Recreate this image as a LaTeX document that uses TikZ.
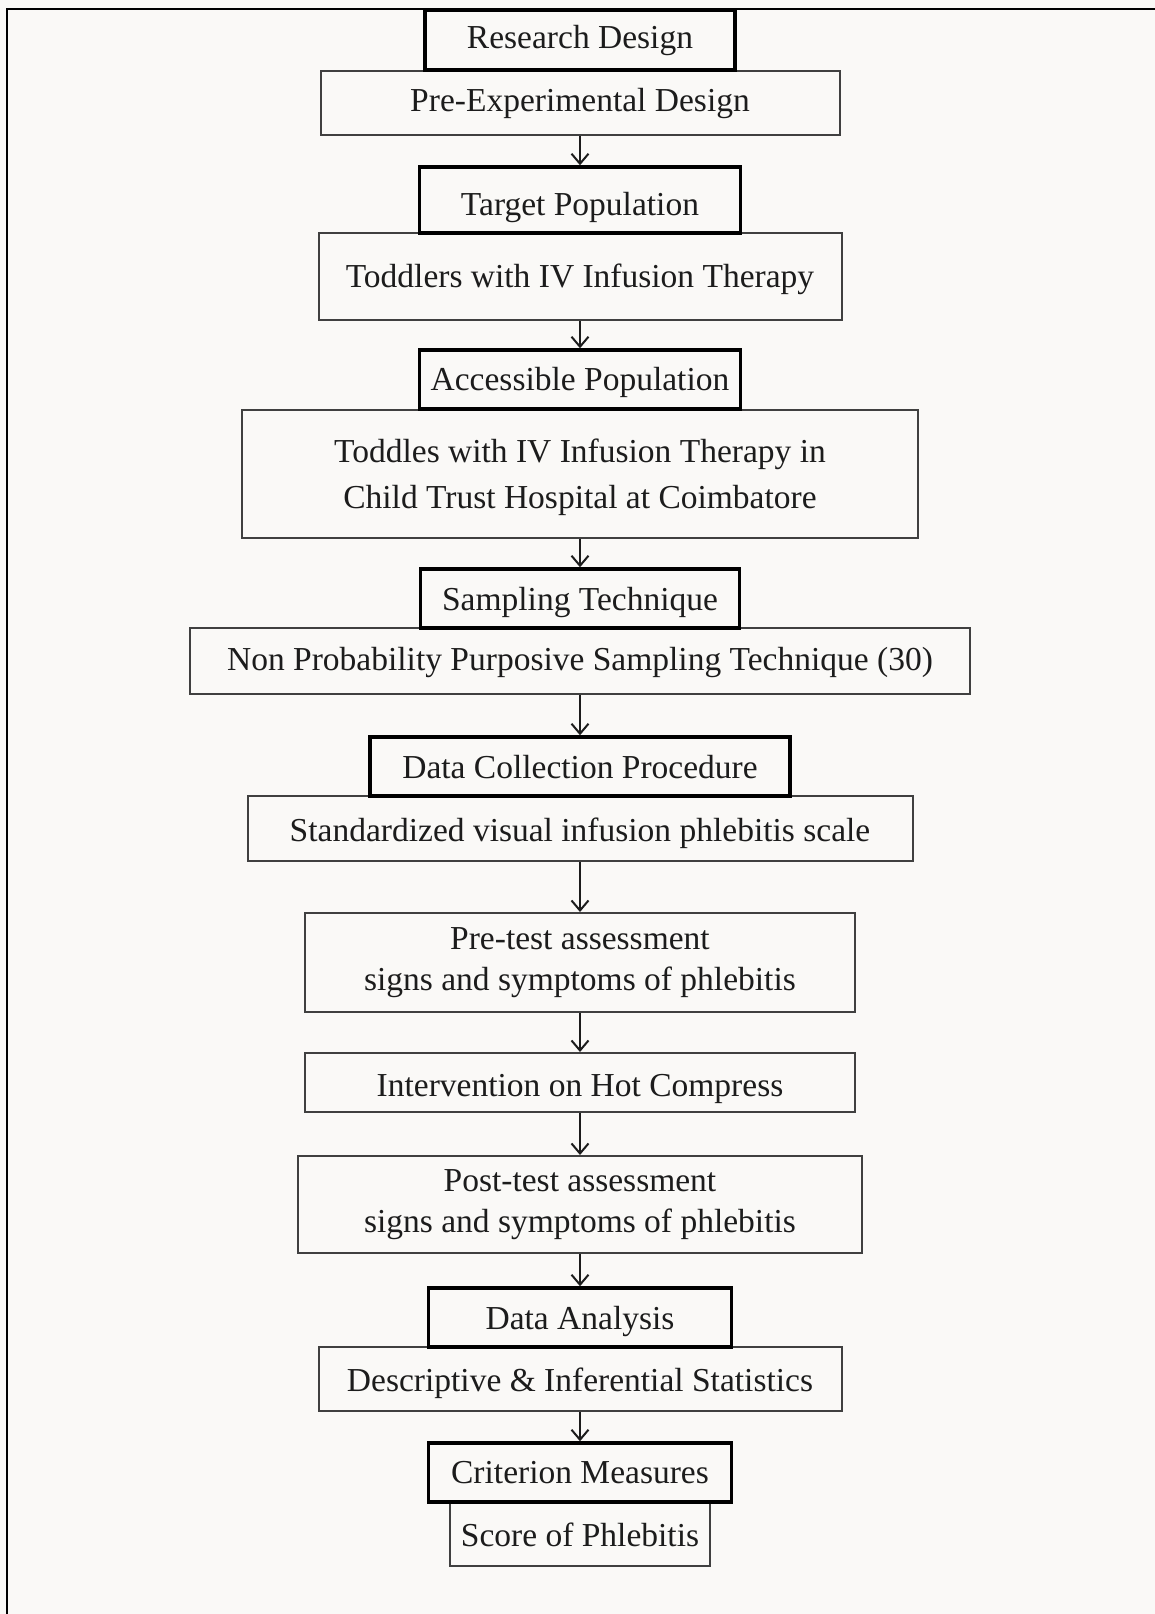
\documentclass[tikz,border=0pt]{standalone}
\usepackage{fontspec}
\setmainfont{Liberation Serif}
\usetikzlibrary{arrows.meta}
\definecolor{paper}{RGB}{250,249,247}
\definecolor{ink}{RGB}{28,28,28}

\begin{document}
\begin{tikzpicture}[x=0.5pt, y=-0.5pt, >={Straight Barb[length=5pt,width=8.5pt]},
   every node/.style={font=\fontsize{16.75}{20.35}\selectfont, text=ink, align=center, inner sep=0pt},
   headbox/.style={draw=black, line width=1.75pt},
   bodybox/.style={draw=black!75, line width=1pt},
   lift/.style={text height=#1, text depth=0pt}]
\useasboundingbox (0,0) rectangle (1155,1614);
\fill[paper] (0,0) rectangle (1155,1614);
\draw[line width=0.75pt] (7,1614) -- (7,9) -- (1155,9);
   % body boxes first
   \node[bodybox, lift=8.7pt, minimum width=259.5pt, minimum height=32pt] (ped) at (580,103) {Pre-Experimental Design};
   \node[bodybox, lift=10.8pt, minimum width=261.5pt, minimum height=43.5pt] (tod) at (580,276.5) {Toddlers with IV Infusion Therapy};
   \node[bodybox, text depth=0pt, minimum width=338pt, minimum height=64pt, font=\fontsize{16.75}{23.3}\selectfont] (toddles) at (580,473.5) {Toddles with IV Infusion Therapy in\\Child Trust Hospital at Coimbatore};
   \node[bodybox, lift=9.7pt, minimum width=390pt, minimum height=33pt] (np) at (580,661) {Non Probability Purposive Sampling Technique (30)};
   \node[bodybox, lift=13.2pt, minimum width=332.5pt, minimum height=32.5pt] (svs) at (580,828.5) {Standardized visual infusion phlebitis scale};
   \node[bodybox, minimum width=275pt, minimum height=49.5pt] (pre) at (580,962.5) {Pre-test assessment\\signs and symptoms of phlebitis};
   \node[bodybox, lift=13.5pt, minimum width=275pt, minimum height=29.5pt] (int) at (580,1082.5) {Intervention on Hot Compress};
   \node[bodybox, minimum width=282pt, minimum height=48.5pt] (post) at (580,1204.5) {Post-test assessment\\signs and symptoms of phlebitis};
   \node[bodybox, lift=12.7pt, minimum width=261.5pt, minimum height=32pt] (des) at (580,1379) {Descriptive \& Inferential Statistics};
   \node[bodybox, lift=12.7pt, minimum width=130pt, minimum height=32pt] (sp) at (580,1534) {Score of Phlebitis};
   % headings on top
   \node[headbox, lift=8pt, minimum width=155pt, minimum height=30pt] (rd) at (580,40) {Research Design};
   \node[headbox, lift=15pt, minimum width=160.5pt, minimum height=33pt] (tp) at (580,200) {Target Population};
   \node[headbox, lift=11pt, minimum width=160.5pt, minimum height=29.5pt] (ap) at (580,379.5) {Accessible Population};
   \node[headbox, lift=11.5pt, minimum width=159.5pt, minimum height=29.5pt] (st) at (580,598.5) {Sampling Technique};
   \node[headbox, lift=12.2pt, minimum width=210pt, minimum height=29.5pt] (dc) at (580,766.5) {Data Collection Procedure};
   \node[headbox, lift=11.5pt, minimum width=151.5pt, minimum height=29.5pt] (da) at (580,1317.5) {Data Analysis};
   \node[headbox, lift=10.8pt, minimum width=151.5pt, minimum height=29.5pt] (cm) at (580,1472.5) {Criterion Measures};
   % arrows
   \foreach \a/\b in {ped/tp, tod/ap, toddles/st, np/dc, svs/pre, pre/int, int/post, post/da, des/cm}
       \draw[->, line width=1pt, ink] (\a) -- (\b);
\end{tikzpicture}
\end{document}
